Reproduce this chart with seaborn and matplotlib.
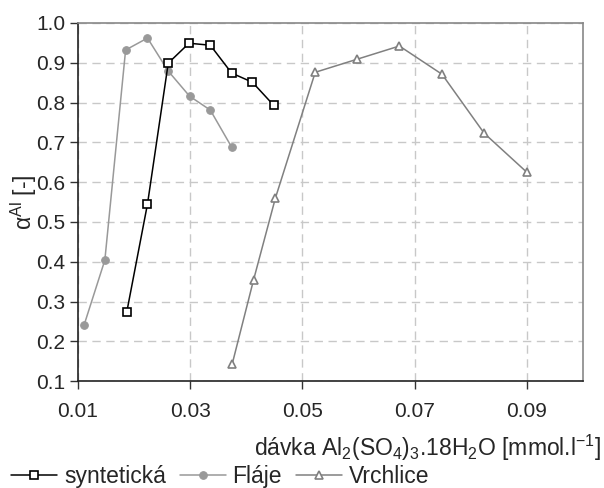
"""
Aluminium fraction alpha_Al vs. coagulant dose for three water types.
Saves out.png (604x488).
"""

import pandas as pd
import matplotlib.pyplot as plt
import seaborn as sns

# =============================================================================
# DATA
# =============================================================================

syn_x = [0.0187, 0.0224, 0.0261, 0.0298, 0.0336, 0.0374, 0.0411, 0.0449]
syn_y = [0.273, 0.545, 0.899, 0.949, 0.944, 0.874, 0.851, 0.793]

flaje_x = [0.0111, 0.0148, 0.0185, 0.0224, 0.0261, 0.0299, 0.0336, 0.0374]
flaje_y = [0.241, 0.404, 0.932, 0.962, 0.879, 0.816, 0.781, 0.688]

vrch_x = [0.0375, 0.0413, 0.0452, 0.0523, 0.0598, 0.0673, 0.0749, 0.0824, 0.0900]
vrch_y = [0.143, 0.354, 0.560, 0.876, 0.909, 0.942, 0.871, 0.723, 0.625]

series_names = ["syntetická", "Fláje", "Vrchlice"]
x_ticks = [0.01, 0.03, 0.05, 0.07, 0.09]
y_ticks = [0.1, 0.2, 0.3, 0.4, 0.5, 0.6, 0.7, 0.8, 0.9, 1.0]

# =============================================================================
# STYLE
# =============================================================================

sns.set_theme(style="white")
plt.rcParams["font.family"] = ["Liberation Sans", "DejaVu Sans"]
plt.rcParams["mathtext.fontset"] = "custom"
plt.rcParams["mathtext.rm"] = "Liberation Sans"
plt.rcParams["mathtext.it"] = "Liberation Sans:italic"
plt.rcParams["mathtext.default"] = "regular"

FS_TICK = 15
FS_LAB = 16.5

fig = plt.figure(figsize=(6.04, 4.88), dpi=100)
ax = fig.add_axes([0.129, 0.219, 0.836, 0.734])

# =============================================================================
# PLOT
# =============================================================================

df_syn = pd.DataFrame({"x": syn_x, "y": syn_y})
df_fl = pd.DataFrame({"x": flaje_x, "y": flaje_y})
df_vr = pd.DataFrame({"x": vrch_x, "y": vrch_y})

sns.lineplot(data=df_syn, x="x", y="y", ax=ax, sort=False, estimator=None,
             color="black", lw=1.1, marker="s", markersize=6.2,
             markerfacecolor="white", markeredgecolor="black",
             markeredgewidth=1.2, label=series_names[0], zorder=4)
sns.lineplot(data=df_fl, x="x", y="y", ax=ax, sort=False, estimator=None,
             color="#999999", lw=1.1, marker="o", markersize=7,
             markerfacecolor="#999999", markeredgecolor="#999999",
             label=series_names[1], zorder=3)
sns.lineplot(data=df_vr, x="x", y="y", ax=ax, sort=False, estimator=None,
             color="#808080", lw=1.1, marker="^", markersize=7.5,
             markerfacecolor="white", markeredgecolor="#808080",
             markeredgewidth=1.2, label=series_names[2], zorder=3)

# --- axes, grid ---
ax.set_xlim(0.01, 0.1)
ax.set_ylim(0.1, 1.0)
ax.set_xticks(x_ticks)
ax.set_yticks(y_ticks)
ax.set_xticklabels([f"{t:.2f}" for t in x_ticks], fontsize=FS_TICK)
ax.set_yticklabels([f"{t:.1f}" for t in y_ticks], fontsize=FS_TICK)
ax.tick_params(axis="both", direction="out", length=6, width=1,
               color="#333333", bottom=True, left=True)
ax.tick_params(axis="x", pad=9)
ax.tick_params(axis="y", pad=3)

ax.grid(True, axis="both", color="#c8c8c8", linestyle=(0, (6, 4)), lw=1)
ax.set_axisbelow(True)

for side in ["left", "bottom"]:
    ax.spines[side].set_color("#222222")
    ax.spines[side].set_linewidth(1.2)
for side in ["top", "right"]:
    ax.spines[side].set_color("#888888")
    ax.spines[side].set_linewidth(1.2)

ax.set_xlabel(r"dávka Al$_2$(SO$_4$)$_3$.18H$_2$O [mmol.l$^{-1}$]",
              fontsize=FS_LAB)
ax.xaxis.set_label_coords(1.036, -0.145)
ax.xaxis.label.set_ha("right")
ax.set_ylabel(r"$\alpha^{Al}$ [-]", fontsize=FS_LAB)
ax.yaxis.set_label_coords(-0.078, 0.5)

# --- legend below the plot ---
handles, labels = ax.get_legend_handles_labels()
ax.get_legend().remove()
for h in handles:
    h.set_markersize(5.5)
fig.legend(handles, labels, loc="lower left", bbox_to_anchor=(0.0, -0.024),
           ncol=3, frameon=False, fontsize=FS_LAB, handlelength=2.0,
           handletextpad=0.3, columnspacing=0.6, borderaxespad=0.1)

plt.savefig("out.png", dpi=100)
